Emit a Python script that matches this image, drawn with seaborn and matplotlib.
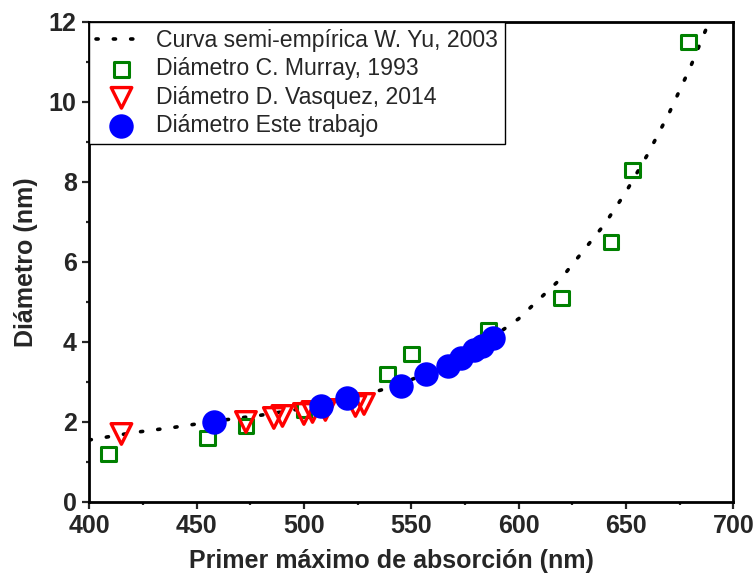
import numpy as np
import pandas as pd
import matplotlib
matplotlib.use("Agg")
import matplotlib.pyplot as plt
import seaborn as sns

curve_x = [400, 420, 440, 460, 480, 500, 520, 540, 560, 580, 600, 620, 640, 650, 660, 670, 680, 690]
curve_y = [1.55, 1.73, 1.87, 2.03, 2.17, 2.34, 2.56, 2.86, 3.26, 3.82, 4.58, 5.60, 6.94, 7.75, 8.68, 9.71, 10.87, 12.17]

murray_x = [409, 455, 473, 500, 539, 550, 586, 620, 643, 653, 679]
murray_y = [1.2, 1.6, 1.9, 2.3, 3.2, 3.7, 4.3, 5.1, 6.5, 8.3, 11.5]

vasquez_x = [415, 473, 486, 490, 500, 504, 510, 524, 528]
vasquez_y = [1.7, 2.0, 2.1, 2.15, 2.2, 2.25, 2.3, 2.4, 2.45]

este_x = [458, 508, 520, 545, 557, 567, 573, 579, 583, 588]
este_y = [2.0, 2.4, 2.6, 2.9, 3.2, 3.4, 3.6, 3.8, 3.9, 4.1]

labels = ["Curva semi-empírica W. Yu, 2003", "Diámetro C. Murray, 1993",
          "Diámetro D. Vasquez, 2014", "Diámetro Este trabajo"]

sns.set_style("ticks")
plt.rcParams['font.family'] = ['Liberation Sans', 'DejaVu Sans']

fig = plt.figure(figsize=(7.56, 5.77), dpi=100)
ax = fig.add_axes([0.118, 0.130, 0.852, 0.832])

df_c = pd.DataFrame({"x": curve_x, "y": curve_y})
sns.lineplot(data=df_c, x="x", y="y", ax=ax, color="black", lw=2.6,
             linestyle=(0, (0.6, 4.2)), label=labels[0], sort=True)
ax.lines[-1].set_dash_capstyle("round")

sns.scatterplot(x=murray_x, y=murray_y, ax=ax, marker="s", s=110, facecolor="none",
                edgecolor="#008000", linewidth=2.2, label=labels[1], zorder=3)
sns.scatterplot(x=vasquez_x, y=vasquez_y, ax=ax, marker="v", s=220, facecolor="none",
                edgecolor="#ff0000", linewidth=2.4, label=labels[2], zorder=4)
sns.scatterplot(x=este_x, y=este_y, ax=ax, marker="o", s=310, color="#0000ff",
                edgecolor="#0000ff", linewidth=0, label=labels[3], zorder=5)

ax.set_xlim(400, 700)
ax.set_ylim(0, 12)
ax.set_xticks(np.arange(400, 701, 50))
ax.set_yticks(np.arange(0, 13, 2))
ax.set_xticks(np.arange(425, 700, 50), minor=True)
ax.set_yticks(np.arange(1, 12, 2), minor=True)
ax.tick_params(which="major", direction="out", length=5, width=1.6, labelsize=18, pad=4)
ax.tick_params(which="minor", direction="out", length=2.5, width=1.6)
for lab in ax.get_xticklabels() + ax.get_yticklabels():
    lab.set_fontweight("bold")
for sp in ax.spines.values():
    sp.set_visible(True)
    sp.set_linewidth(2)
    sp.set_color("black")

ax.set_xlabel("Primer máximo de absorción (nm)", fontsize=18, fontweight="bold")
ax.xaxis.set_label_coords(0.469, -0.098)
ax.set_ylabel("Diámetro (nm)", fontsize=18, fontweight="bold", labelpad=8)

leg = ax.legend(loc="upper left", fontsize=16.6, frameon=True, fancybox=False,
                edgecolor="black", borderaxespad=0.0, handlelength=2.2, handletextpad=0.4,
                labelspacing=0.24, borderpad=0.3, markerscale=1.0)
leg.get_frame().set_linewidth(1.0)
leg.get_frame().set_alpha(1)

fig.savefig("out.png", dpi=100)
